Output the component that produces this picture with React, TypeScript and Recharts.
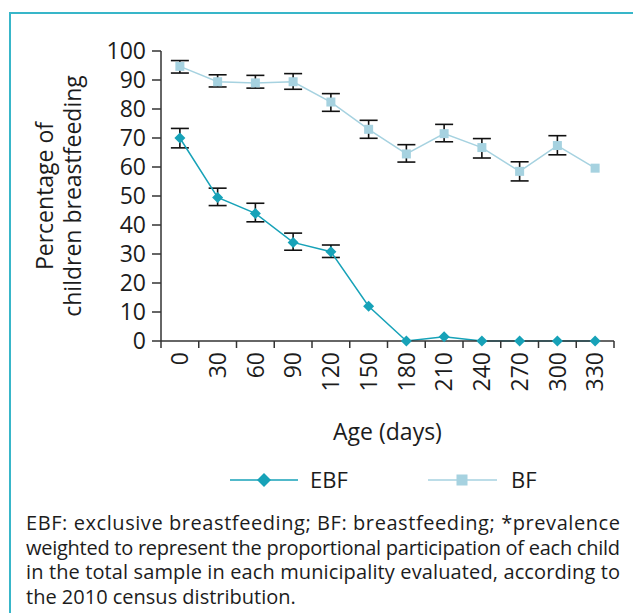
import React from "react";
import { LineChart, Line, XAxis, YAxis, ErrorBar, Label } from "recharts";

// ages in days (category positions on the x axis)
const ages = [0, 30, 60, 90, 120, 150, 180, 210, 240, 270, 300, 330];

// exclusive breastfeeding (%), with lower/upper bounds of the error bars
const ebf = [70, 49.5, 44, 34, 30.8, 12, 0, 1.5, 0, 0, 0, 0];
const ebfLow = [66.6, 46.7, 41.1, 31.3, 28.8, null, null, null, null, null, null, null];
const ebfHigh = [73.3, 52.7, 47.5, 37.2, 33.1, null, null, null, null, null, null, null];

// any breastfeeding (%)
const bf = [94.7, 89.4, 89, 89.4, 82.4, 73, 64.5, 71.5, 66.7, 58.5, 67.4, 59.6];
const bfLow = [92.4, 87.6, 87.2, 86.8, 79.2, 69.9, 61.7, 68.7, 63.1, 55.2, 64.2, null];
const bfHigh = [96.7, 91.8, 91.6, 92.2, 85.3, 76.1, 67.7, 74.7, 69.8, 61.8, 70.8, null];

const yTicks = [0, 10, 20, 30, 40, 50, 60, 70, 80, 90, 100];

const captionLines = [
  "EBF: exclusive breastfeeding; BF: breastfeeding; *prevalence",
  "weighted to represent the proportional participation of each child",
  "in the total sample in each municipality evaluated, according to",
  "the 2010 census distribution.",
];

const EBF_COLOR = "#17a2b8";
const BF_COLOR = "#a6d2e0";
const TEXT = "#1c1c1c";
const FONT = "'Open Sans', 'Noto Sans', sans-serif";
const FS = 23;

const step = ages[1] - ages[0];
const half = step / 2;
const edges = ages.map((a) => a - half).concat(ages[ages.length - 1] + half);
const xTicks = [...edges, ...ages].sort((a, b) => a - b);

const err = (v: number, lo: number | null, hi: number | null) =>
  lo == null || hi == null ? null : [v - lo, hi - v];

const data = ages.map((age, i) => ({
  age,
  ebf: ebf[i],
  ebfErr: err(ebf[i], ebfLow[i], ebfHigh[i]),
  bf: bf[i],
  bfErr: err(bf[i], bfLow[i], bfHigh[i]),
}));

const Diamond = ({ cx, cy, size = 5.5, fill = EBF_COLOR }: any) => (
  <polygon
    points={`${cx},${cy - size} ${cx + size},${cy} ${cx},${cy + size} ${cx - size},${cy}`}
    fill={fill}
  />
);

const Square = ({ cx, cy, size = 9, fill = BF_COLOR }: any) => (
  <rect x={cx - size / 2} y={cy - size / 2} width={size} height={size} fill={fill} />
);

const AgeTick = (props: any) => {
  const { x, y, payload } = props;
  if (ages.includes(payload.value)) {
    return (
      <text
        x={x}
        y={y + 11}
        dy="0.36em"
        transform={`rotate(-90, ${x}, ${y + 11})`}
        textAnchor="end"
        fontSize={FS}
        fontFamily={FONT}
        fill={TEXT}
      >
        {payload.value}
      </text>
    );
  }
  return <line x1={x} y1={y} x2={x} y2={y + 7} stroke="#333" strokeWidth={1.5} />;
};

const YLabel = ({ viewBox }: any) => {
  const cy = viewBox.y + viewBox.height / 2;
  const lines = ["Percentage of", "children breastfeeding"];
  const xs = [45, 73];
  return (
    <g>
      {lines.map((t, i) => (
        <text
          key={t}
          x={viewBox.x + xs[i]}
          y={cy}
          dy="0.36em"
          transform={`rotate(-90, ${viewBox.x + xs[i]}, ${cy})`}
          textAnchor="middle"
          fontSize={FS}
          fontFamily={FONT}
          fill={TEXT}
        >
          {t}
        </text>
      ))}
    </g>
  );
};

export default function App() {
  return (
    <div
      style={{
        position: "absolute",
        left: 0,
        top: 0,
        width: 633,
        height: 613,
        overflow: "hidden",
        background: "#fff",
        fontFamily: FONT,
      }}
    >
      <div
        style={{
          position: "absolute",
          left: 9,
          top: 12,
          width: 700,
          height: 700,
          borderTop: "2px solid #38b6c9",
          borderLeft: "2px solid #38b6c9",
        }}
      />
      <div style={{ position: "absolute", left: 0, top: 0 }}>
        <LineChart
          width={633}
          height={460}
          data={data}
          margin={{ top: 51, right: 19, bottom: 0, left: 0 }}
        >
          <XAxis
            dataKey="age"
            type="number"
            domain={[edges[0], edges[edges.length - 1]]}
            ticks={xTicks}
            interval={0}
            tick={<AgeTick />}
            tickLine={false}
            tickSize={0}
            tickMargin={0}
            height={119}
            axisLine={{ stroke: "#333", strokeWidth: 1.5 }}
          >
            <Label
              value="Age (days)"
              position="insideBottom"
              offset={20}
              fontSize={FS}
              fontFamily={FONT}
              fill={TEXT}
            />
          </XAxis>
          <YAxis
            domain={[0, 100]}
            ticks={yTicks}
            interval={0}
            width={161}
            tickSize={9}
            tickMargin={6}
            tick={{ fontSize: FS, fontFamily: FONT, fill: TEXT }}
            tickLine={{ stroke: "#333", strokeWidth: 1.5 }}
            axisLine={{ stroke: "#333", strokeWidth: 1.5 }}
            label={<YLabel />}
          />
          <Line
            dataKey="bf"
            stroke={BF_COLOR}
            strokeWidth={1.5}
            isAnimationActive={false}
            activeDot={false}
            dot={(p: any) => <Square key={`bf-${p.index}`} cx={p.cx} cy={p.cy} />}
          >
            <ErrorBar dataKey="bfErr" direction="y" width={9} stroke="#111" strokeWidth={1.6} />
          </Line>
          <Line
            dataKey="ebf"
            stroke={EBF_COLOR}
            strokeWidth={1.5}
            isAnimationActive={false}
            activeDot={false}
            dot={(p: any) => <Diamond key={`ebf-${p.index}`} cx={p.cx} cy={p.cy} />}
          >
            <ErrorBar dataKey="ebfErr" direction="y" width={9} stroke="#111" strokeWidth={1.6} />
          </Line>
        </LineChart>
      </div>
      <svg
        width={633}
        height={30}
        style={{ position: "absolute", left: 0, top: 465 }}
        fontFamily={FONT}
      >
        <line x1={230} y1={15} x2={298} y2={15} stroke={EBF_COLOR} strokeWidth={1.5} />
        <Diamond cx={264} cy={15} size={7} />
        <text x={310} y={15} dy="0.36em" fontSize={22} fill={TEXT}>
          EBF
        </text>
        <line x1={428} y1={15} x2={497} y2={15} stroke={BF_COLOR} strokeWidth={1.5} />
        <Square cx={462} cy={15} size={11} />
        <text x={511} y={15} dy="0.36em" fontSize={22} fill={TEXT}>
          BF
        </text>
      </svg>
      <svg
        width={633}
        height={108}
        style={{ position: "absolute", left: 0, top: 505 }}
        fontFamily={FONT}
      >
        {captionLines.map((t, i) => (
          <text
            key={i}
            x={26}
            y={25 + i * 24.7}
            fontSize={20}
            fill={TEXT}
            {...(i < captionLines.length - 1
              ? { textLength: 594, lengthAdjust: "spacing" }
              : {})}
          >
            {t}
          </text>
        ))}
      </svg>
    </div>
  );
}
